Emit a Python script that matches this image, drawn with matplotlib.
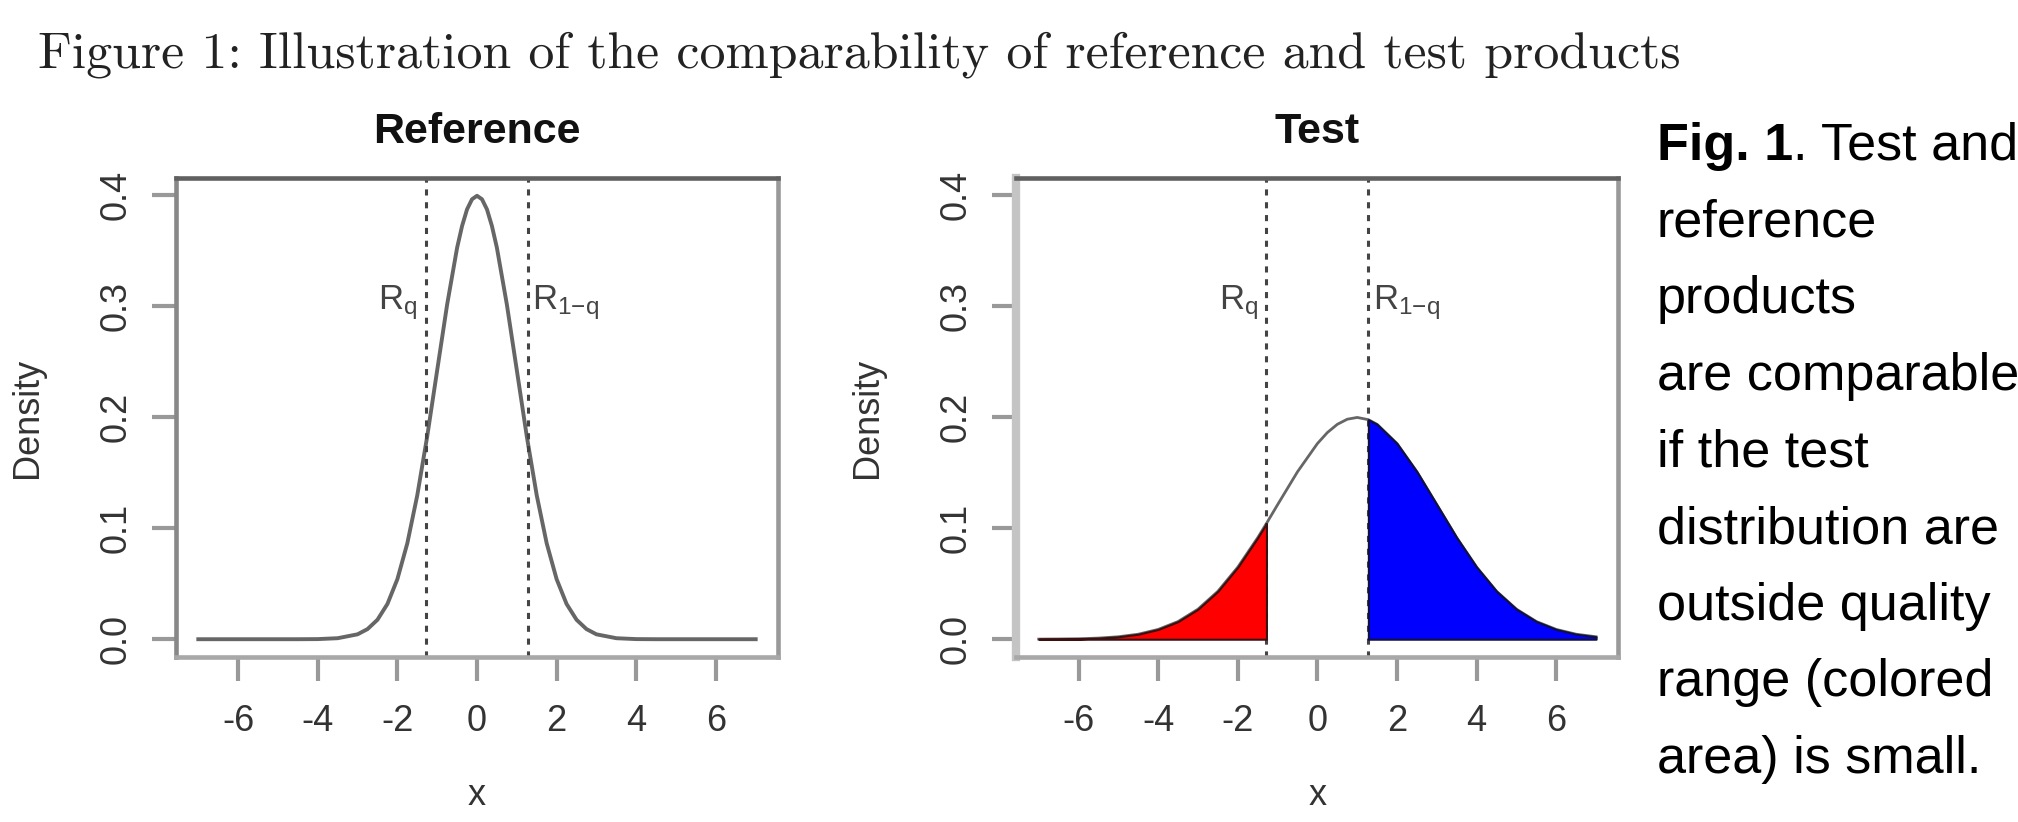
import matplotlib
matplotlib.use('Agg')
import matplotlib.pyplot as plt

# density values
ref_x = [-7, -6.5, -6, -5.5, -5, -4.5, -4, -3.5, -3, -2.75, -2.5, -2.25, -2, -1.75, -1.5, -1.25, -1, -0.75, -0.5, -0.375, -0.25, -0.125,
         0, 0.125, 0.25, 0.375, 0.5, 0.75, 1, 1.25, 1.5, 1.75, 2, 2.25, 2.5, 2.75, 3, 3.5, 4, 4.5, 5, 5.5, 6, 6.5, 7]
ref_density = [0, 0, 0, 0, 0, 0, 0.0001, 0.0009, 0.0044, 0.0091, 0.0175, 0.0317, 0.054, 0.0863, 0.1295, 0.1826, 0.242, 0.3011, 0.3521, 0.3717, 0.3867, 0.3958,
               0.3989, 0.3958, 0.3867, 0.3717, 0.3521, 0.3011, 0.242, 0.1826, 0.1295, 0.0863, 0.054, 0.0317, 0.0175, 0.0091, 0.0044, 0.0009, 0.0001, 0, 0, 0, 0, 0, 0]

test_x = [-7, -6.5, -6, -5.5, -5, -4.5, -4, -3.5, -3, -2.5, -2, -1.5, -1.28, -1, -0.5, 0, 0.25, 0.5, 0.75, 1, 1.28, 1.5,
          2, 2.5, 3, 3.5, 4, 4.5, 5, 5.5, 6, 6.5, 7]
test_density = [0.0001, 0.0002, 0.0004, 0.001, 0.0022, 0.0045, 0.0088, 0.0159, 0.027, 0.0431, 0.0648, 0.0913, 0.1041, 0.121, 0.1506, 0.176, 0.1859, 0.1933, 0.1979, 0.1995, 0.1975, 0.1933,
                0.176, 0.1506, 0.121, 0.0913, 0.0648, 0.0431, 0.027, 0.0159, 0.0088, 0.0045, 0.0022]

rq_low = -1.28
rq_high = 1.28

x_ticks = [-6, -4, -2, 0, 2, 4, 6]
y_ticks = [0.0, 0.1, 0.2, 0.3, 0.4]
y_ticklabels = ['0.0', '0.1', '0.2', '0.3', '0.4']
panel_titles = ['Reference', 'Test']

fig_title = 'Figure 1: Illustration of the comparability of reference and test products'
caption_bold = 'Fig. 1'
caption_lines = ['. Test and', 'reference', 'products', 'are comparable', 'if the test',
                 'distribution are', 'outside quality', 'range (colored', 'area) is small.']

plt.rcParams['font.family'] = ['Liberation Sans', 'DejaVu Sans']
plt.rcParams['mathtext.default'] = 'regular'

W, H = 2018, 822
fig = plt.figure(figsize=(W / 100, H / 100), dpi=100)


def px(x, y):
    # pixel position (from top-left) -> figure fraction
    return x / W, 1 - y / H


def draw_panel(ax, x, y, title, curve_lw):
    ax.plot(x, y, color='#666666', lw=curve_lw, solid_joinstyle='round')
    for xv in (rq_low, rq_high):
        ax.axvline(xv, color='#444444', lw=2.2, ls=(0, (2.0, 2.2)))
    ax.set_xlim(-7.56, 7.56)
    ax.set_ylim(-0.016, 0.4149)
    ax.set_xticks(x_ticks)
    ax.set_xticklabels([str(t) for t in x_ticks])
    ax.set_yticks(y_ticks)
    ax.set_yticklabels(y_ticklabels, rotation=90, va='center')
    ax.tick_params(direction='out', length=17, width=3, color='#999999', labelsize=26, labelcolor='#333333')
    ax.tick_params(axis='y', pad=13.5)
    ax.tick_params(axis='x', pad=17)
    ax.set_xlabel('x', fontsize=26, color='#333333', labelpad=28)
    ax.set_ylabel('Density', fontsize=26, color='#333333')
    ax.yaxis.set_label_coords(-0.218, 0.5)
    ax.set_title(title, fontsize=31, fontweight='bold', color='#111111', pad=25)
    ax.spines['top'].set_color('#606060')
    ax.spines['left'].set_color('#888888')
    ax.spines['bottom'].set_color('#a8a8a8')
    ax.spines['right'].set_color('#999999')
    for s in ax.spines.values():
        s.set_linewidth(3.3)
    ax.annotate(r'$R_q$', (rq_low, 0.297), xytext=(-6, 0), textcoords='offset points',
                ha='right', va='baseline', fontsize=25, color='#444444')
    ax.annotate(r'$R_{1{-}q}$', (rq_high, 0.297), xytext=(3, 0), textcoords='offset points',
                ha='left', va='baseline', fontsize=25, color='#444444')


ax1 = fig.add_axes([176 / W, 165 / H, 602 / W, 479 / H])
draw_panel(ax1, ref_x, ref_density, panel_titles[0], 2.8)

ax2 = fig.add_axes([1016.4 / W, 165 / H, 602 / W, 479 / H])
draw_panel(ax2, test_x, test_density, panel_titles[1], 2.0)
red_x = [v for v in test_x if v <= rq_low]
red_y = test_density[:len(red_x)]
blue_start = test_x.index(rq_high)
ax2.fill_between(red_x, red_y, 0, facecolor='#ff0000', edgecolor='#3a1010', lw=1.5, zorder=3)
ax2.fill_between(test_x[blue_start:], test_density[blue_start:], 0, facecolor='#0000ff', edgecolor='#101040', lw=1.5, zorder=3)
ax2.spines['left'].set_color('#c4c4c4')
ax2.spines['left'].set_linewidth(6)

# document title, sized to span the same width as in the picture
t = fig.text(*px(38, 68), fig_title, family='cmr10', fontsize=30, color='#222222', ha='left', va='baseline')
renderer = fig.canvas.get_renderer()
w = t.get_window_extent(renderer).width
t.set_fontsize(30 * 1643 / w)

# caption on the right
cx = 1656.7
line_h = 76.6
fb = fig.text(*px(cx, 160), caption_bold, fontsize=37.5, fontweight='bold', color='black', ha='left', va='baseline')
bw = fb.get_window_extent(renderer).width
for i, line in enumerate(caption_lines):
    x0 = cx + bw if i == 0 else cx
    fig.text(*px(x0, 160 + i * line_h), line, fontsize=37.5, color='black', ha='left', va='baseline')

fig.savefig('out.png', dpi=100)
